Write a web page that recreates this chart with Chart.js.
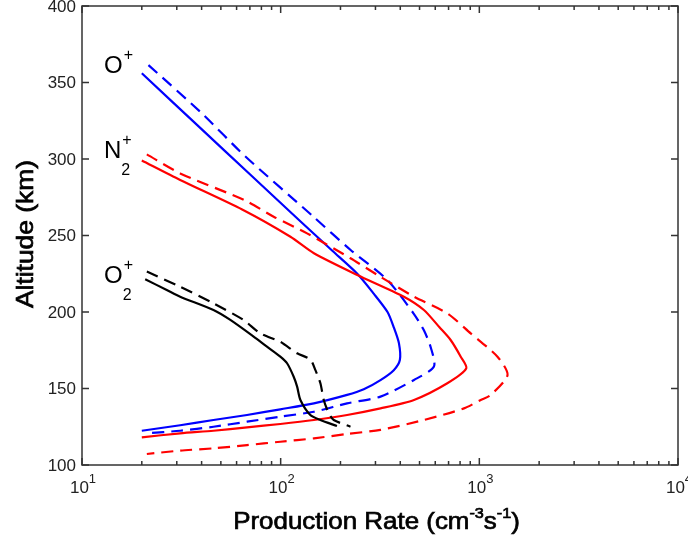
<!DOCTYPE html>
<html>
<head>
<meta charset="utf-8">
<script src="https://cdn.jsdelivr.net/npm/chart.js@4.4.0/dist/chart.umd.min.js"></script>
<style>
  html, body { margin: 0; padding: 0; background: #fff; }
</style>
</head>
<body>
<canvas id="chart" width="688" height="544"></canvas>
<script>
// production rate (cm^-3 s^-1) against altitude (km), solid and dashed cases
const oPlusSolidAlt  = [356, 320, 290, 260, 240, 225, 212, 200, 190, 179.5, 168.6, 162, 155.5, 149.5, 145.8, 140.3, 136.4, 132.7, 129.4, 126, 122.4];
const oPlusSolidRate = [20, 39.6, 70, 124, 182, 243, 294, 345, 371, 394, 398, 371, 318, 262, 216, 147, 99.6, 67.7, 45.9, 31.2, 20];
const oPlusDashAlt  = [361.4, 330, 302, 262, 240.5, 221, 199, 188, 177, 164.3, 155.6, 144.7, 140.3, 134.8, 131.6, 128.3, 125, 122.4, 120.7];
const oPlusDashRate = [21.6, 40, 66, 147, 225, 344, 467, 526, 569, 591, 469, 318, 216, 147, 99.6, 67.7, 45.9, 31.2, 21.2];

const n2SolidAlt  = [299, 286.3, 267, 249.2, 238.4, 224.2, 210, 201.3, 190, 181.7, 170.8, 163.2, 153.4, 142.5, 137, 132.7, 129.4, 126.8, 124.6, 122.4, 120.7, 118.1];
const n2SolidRate = [20, 31.2, 64, 112, 147, 243, 417, 526, 630, 717, 806, 860, 690, 469, 318, 216, 147, 99.6, 67.7, 45.9, 31.2, 20];
const n2DashAlt  = [303, 290.6, 273, 262.3, 251.4, 235.1, 223, 210, 199.1, 186, 170.8, 158.8, 145.8, 142.5, 137, 129.4, 123, 120.3, 117.4, 115.2, 113, 110.9, 109.4, 107.2];
const n2DashRate = [21.2, 31.2, 66, 92.2, 135.8, 224.6, 318, 469, 690, 905, 1234, 1387, 1142, 1016, 837, 526, 318, 216, 147, 99.6, 67.7, 45.9, 31.2, 21.2];

const o2SolidAlt  = [221.4, 214.4, 210, 201.3, 194.8, 183.9, 177.3, 170.8, 166.5, 157.7, 151.2, 142.5, 132.7, 129.4, 125.5];
const o2SolidRate = [20.8, 26.7, 31.2, 45.9, 55.8, 73.1, 85.3, 99.6, 107.7, 116.3, 121, 125.7, 141, 158.5, 192];
const o2DashAlt  = [226.4, 216.5, 205.7, 194.8, 186, 180.5, 173, 169, 162, 153.4, 142.5, 133.8, 129.4, 125];
const o2DashRate = [21.2, 31.2, 45.9, 65, 79, 99.6, 121, 141, 149.6, 158.5, 164.8, 174.6, 185, 224.6];

// axes
const yTicks = [100, 150, 200, 250, 300, 350, 400];
const xDecades = [1, 2, 3, 4];

// species labels
const labelMain = ['O', 'N', 'O'];
const labelSub = ['', '2', '2'];
const labelAlt = [356.2, 300.7, 219];

const FONT = '"Liberation Sans", Arial, Helvetica, sans-serif';

function profile(alts, rates) {
    return alts.map((a, i) => ({ x: rates[i], y: a }));
}

function line(alts, rates, color, dashed) {
    return {
        data: profile(alts, rates),
        showLine: true,
        borderColor: color,
        borderWidth: 2.2,
        borderDash: dashed ? [12, 7] : [],
        pointRadius: 0,
        tension: 0.25,
        fill: false
    };
}

// text runs with superscripts
function runsWidth(ctx, runs, size, small) {
    let w = 0;
    runs.forEach(r => {
        ctx.font = (r.sup ? small : size) + 'px ' + FONT;
        w += ctx.measureText(r.t).width;
    });
    return w;
}

function drawRuns(ctx, runs, x, y, size, small, rise, heavy) {
    runs.forEach(r => {
        ctx.font = (r.sup ? small : size) + 'px ' + FONT;
        const ty = y - (r.sup ? rise : 0);
        ctx.fillText(r.t, x, ty);
        if (heavy) ctx.strokeText(r.t, x, ty);
        x += ctx.measureText(r.t).width;
    });
}

const frame = {
    id: 'frame',
    afterDraw(chart) {
        const ctx = chart.ctx;
        const a = chart.chartArea;
        const xs = chart.scales.x;
        const ys = chart.scales.y;
        ctx.save();

        // box
        ctx.strokeStyle = '#333';
        ctx.lineWidth = 1.5;
        ctx.strokeRect(a.left, a.top, a.right - a.left, a.bottom - a.top);

        // y ticks + labels
        ctx.fillStyle = '#222';
        ctx.font = '17px ' + FONT;
        ctx.textAlign = 'right';
        ctx.textBaseline = 'middle';
        yTicks.forEach(v => {
            const py = ys.getPixelForValue(v);
            ctx.beginPath();
            ctx.moveTo(a.left, py); ctx.lineTo(a.left + 7, py);
            ctx.moveTo(a.right, py); ctx.lineTo(a.right - 7, py);
            ctx.stroke();
            ctx.fillText(String(v), a.left - 6, py + 1);
        });

        // x ticks (log, major + minor) + labels
        ctx.textAlign = 'left';
        ctx.textBaseline = 'alphabetic';
        xDecades.forEach(d => {
            for (let m = 1; m <= 9; m++) {
                if (d === 4 && m > 1) break;
                const px = xs.getPixelForValue(m * Math.pow(10, d));
                const len = m === 1 ? 7 : 4;
                ctx.beginPath();
                ctx.moveTo(px, a.bottom); ctx.lineTo(px, a.bottom - len);
                ctx.moveTo(px, a.top); ctx.lineTo(px, a.top + len);
                ctx.stroke();
            }
            const px = xs.getPixelForValue(Math.pow(10, d));
            const runs = [{ t: '10' }, { t: String(d), sup: true }];
            const w = runsWidth(ctx, runs, 17, 13);
            drawRuns(ctx, runs, px - w / 2 + 1, a.bottom + 28, 17, 13, 10, false);
        });

        // axis titles: regular face, slightly stroked and stretched
        ctx.fillStyle = '#000';
        ctx.strokeStyle = '#000';
        ctx.lineWidth = 0.7;
        const xt = [
            { t: 'Production Rate (cm' },
            { t: '-3', sup: true },
            { t: 's' },
            { t: '-1', sup: true },
            { t: ')' }
        ];
        const sx = 1.08;
        const xw = runsWidth(ctx, xt, 24, 15) * sx;
        ctx.save();
        ctx.translate(376.5 - xw / 2, 529);
        ctx.scale(sx, 1);
        drawRuns(ctx, xt, 0, 0, 24, 15, 11, true);
        ctx.restore();

        ctx.save();
        ctx.translate(33, 234);
        ctx.rotate(-Math.PI / 2);
        ctx.scale(1.1, 1);
        ctx.textAlign = 'center';
        ctx.font = '24px ' + FONT;
        ctx.fillText('Altitude (km)', 0, 0);
        ctx.strokeText('Altitude (km)', 0, 0);
        ctx.restore();

        // species labels
        ctx.textAlign = 'left';
        labelMain.forEach((t, i) => {
            const py = ys.getPixelForValue(labelAlt[i]);
            const px = a.left + 22;
            ctx.font = '24px ' + FONT;
            ctx.fillText(t, px, py);
            const w = ctx.measureText(t).width;
            ctx.font = '16px ' + FONT;
            ctx.fillText('+', px + w + 1, py - 13);
            if (labelSub[i]) ctx.fillText(labelSub[i], px + w, py + 17);
        });

        ctx.restore();
    }
};

const hidden = {
    display: true,
    grid: { display: false },
    border: { display: false },
    ticks: { display: false }
};

new Chart(document.getElementById('chart'), {
    type: 'scatter',
    data: {
        datasets: [
            line(o2SolidAlt, o2SolidRate, '#000000', false),
            line(o2DashAlt, o2DashRate, '#000000', true),
            line(n2SolidAlt, n2SolidRate, '#ff0000', false),
            line(n2DashAlt, n2DashRate, '#ff0000', true),
            line(oPlusSolidAlt, oPlusSolidRate, '#0000ff', false),
            line(oPlusDashAlt, oPlusDashRate, '#0000ff', true)
        ]
    },
    options: {
        responsive: false,
        animation: false,
        layout: { padding: { left: 82, right: 10, top: 6, bottom: 79 } },
        plugins: { legend: { display: false }, tooltip: { enabled: false } },
        scales: {
            x: Object.assign({}, hidden, {
                type: 'logarithmic', min: 10, max: 10000,
                afterFit: s => { s.height = 0; }
            }),
            y: Object.assign({}, hidden, {
                type: 'linear', min: 100, max: 400,
                afterFit: s => { s.width = 0; }
            })
        }
    },
    plugins: [frame]
});
</script>
</body>
</html>
